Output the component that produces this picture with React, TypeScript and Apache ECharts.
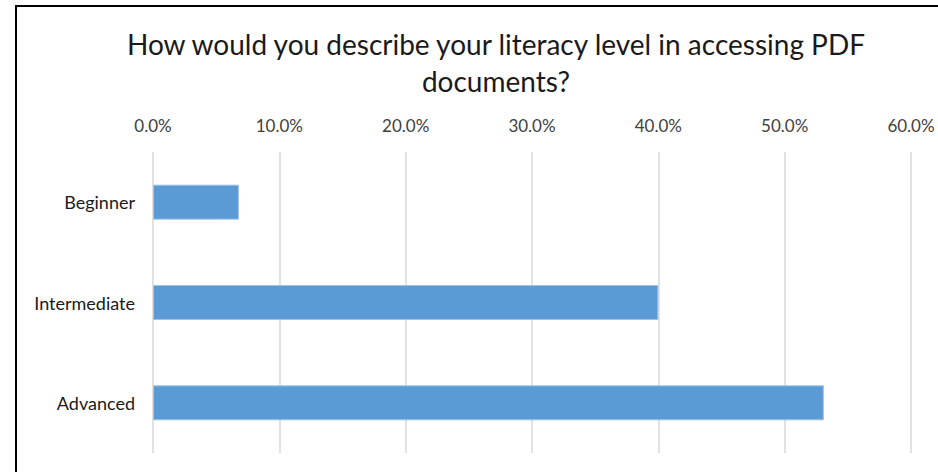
import React, { useEffect, useRef } from "react";
import * as echarts from "echarts";

const categories = ["Beginner", "Intermediate", "Advanced"];
const values = [6.8, 40.0, 53.1];
const axisTicks = [0, 10, 20, 30, 40, 50, 60];

const FONT = "Lato";

export default function App() {
  const ref = useRef<HTMLDivElement>(null);
  useEffect(() => {
    const chart = echarts.init(ref.current!, null, { renderer: "svg" });
    chart.setOption({
      animation: false,
      backgroundColor: "#ffffff",
      title: {
        text: "How would you describe your literacy level in accessing PDF\ndocuments?",
        left: 491,
        top: 20,
        textAlign: "center",
        textStyle: {
          fontFamily: FONT,
          fontSize: 28,
          fontWeight: "normal",
          color: "#1a1a1a",
          lineHeight: 37,
        },
      },
      graphic: [
        {
          type: "rect",
          shape: { x: 16, y: 6, width: 960, height: 500 },
          style: { fill: "none", stroke: "#000000", lineWidth: 2 },
          silent: true,
        },
      ],
      grid: { left: 153, right: 27, top: 152, bottom: 19, containLabel: false },
      xAxis: {
        type: "value",
        position: "top",
        min: axisTicks[0],
        max: axisTicks[axisTicks.length - 1],
        interval: 10,
        axisLine: { show: false },
        axisTick: { show: false },
        axisLabel: {
          margin: 18,
          fontFamily: FONT,
          fontSize: 17,
          color: "#404040",
          formatter: (v: number) => v.toFixed(1) + "%",
        },
        splitLine: { show: true, lineStyle: { color: "#d9d9d9", width: 1.5 } },
      },
      yAxis: {
        type: "category",
        data: categories,
        inverse: true,
        axisLine: { show: false },
        axisTick: { show: false },
        axisLabel: {
          margin: 18,
          fontFamily: FONT,
          fontSize: 18,
          color: "#1a1a1a",
        },
      },
      series: [
        {
          type: "bar",
          data: values,
          barWidth: 35,
          itemStyle: { color: "#5b9bd5", borderColor: "#9dc3e6", borderWidth: 1 },
        },
      ],
    });
    return () => chart.dispose();
  }, []);
  return (
    <div
      ref={ref}
      style={{ position: "fixed", left: 0, top: 0, width: 938, height: 472 }}
    />
  );
}
